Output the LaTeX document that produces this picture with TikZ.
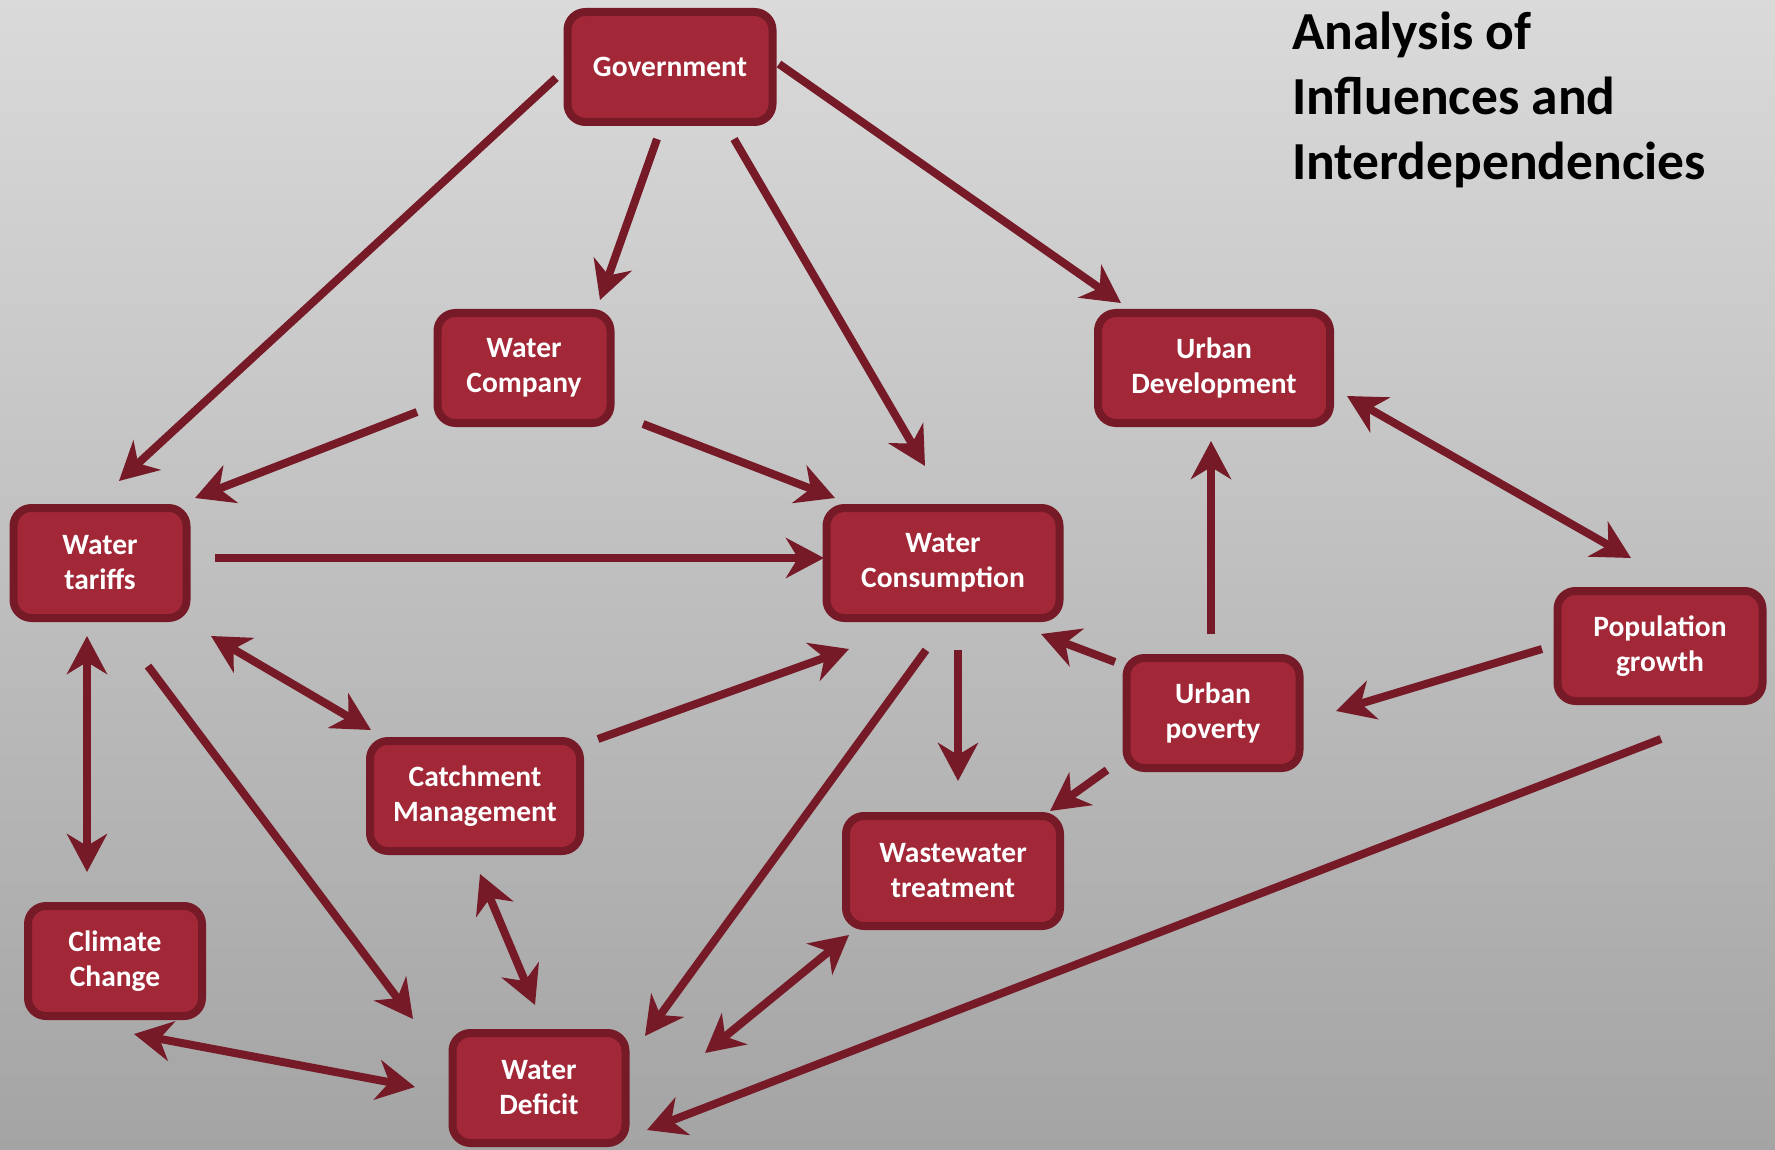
\documentclass[tikz,border=0pt]{standalone}
\usepackage{fontspec}
\setmainfont{Carlito}
\usetikzlibrary{arrows.meta}
\definecolor{boxfill}{HTML}{A22838}
\definecolor{boxline}{HTML}{751A26}
\definecolor{arrowc}{HTML}{761A27}
\tikzset{
  box/.style={draw=boxline, fill=boxfill, line width=8pt, rounded corners=18pt,
    text=white, align=center, font=\fontsize{29.5}{35}\selectfont\bfseries,
    inner sep=0pt},
  tip/.tip={Stealth[length=38pt,width=40pt,inset=12pt]},
  arr/.style={draw=arrowc, line width=8pt, -tip},
  darr/.style={draw=arrowc, line width=8pt, tip-tip},
}
\begin{document}
\begin{tikzpicture}[x=1pt,y=-1pt]
\useasboundingbox (0,0) rectangle (1775,1150);
\shade[top color={rgb,255:red,218;green,218;blue,218}, bottom color={rgb,255:red,164;green,164;blue,164}] (0,0) rectangle (1775,1150);

\node[anchor=north west, align=left, font=\fontsize{53.5}{65}\selectfont\bfseries, inner sep=0pt] (title) at (1292,12) {Analysis of\\Influences and\\Interdependencies};

\node[box, minimum width=205pt, minimum height=110pt] (gov) at (670,67) {Government};
\node[box, minimum width=173pt, minimum height=110pt] (wc) at (524,368) {Water\\Company};
\node[box, minimum width=232pt, minimum height=110pt] (ud) at (1214,368) {Urban\\Development};
\node[box, minimum width=173pt, minimum height=110pt] (wt) at (100,563) {Water\\tariffs};
\node[box, minimum width=233pt, minimum height=110pt] (cons) at (943,563) {Water\\Consumption};
\node[box, minimum width=205pt, minimum height=110pt] (pop) at (1660,646) {Population\\growth};
\node[box, minimum width=173pt, minimum height=110pt] (pov) at (1213,713) {Urban\\poverty};
\node[box, minimum width=210pt, minimum height=110pt] (cat) at (475,796) {Catchment\\Management};
\node[box, minimum width=214pt, minimum height=110pt] (ww) at (953,871) {Wastewater\\treatment};
\node[box, minimum width=174pt, minimum height=110pt] (cc) at (115,961) {Climate\\Change};
\node[box, minimum width=173pt, minimum height=110pt] (wd) at (539,1088) {Water\\Deficit};

\draw[arr] ([shift={(-114,11)}]gov.center) -- ([shift={(19,-82)}]wt.center);
\draw[arr] ([shift={(-13,72)}]gov.center) -- ([shift={(76,-68)}]wc.center);
\draw[arr] ([shift={(64,72)}]gov.center) -- ([shift={(-18,-97)}]cons.center);
\draw[arr] ([shift={(109,-3)}]gov.center) -- ([shift={(-93,-65)}]ud.center);
\draw[arr] ([shift={(-107,44)}]wc.center) -- ([shift={(95,-65)}]wt.center);
\draw[arr] ([shift={(119,56)}]wc.center) -- ([shift={(-108,-65)}]cons.center);
\draw[arr] ([shift={(115,-5)}]wt.center) -- ([shift={(-119,-5)}]cons.center);
\draw[darr] ([shift={(-13,73)}]wt.center) -- ([shift={(-28,-89)}]cc.center);
\draw[darr] ([shift={(111,73)}]wt.center) -- ([shift={(-104,-66)}]cat.center);
\draw[arr] ([shift={(48,103)}]wt.center) -- ([shift={(-126,-69)}]wd.center);
\draw[arr] ([shift={(123,-57)}]cat.center) -- ([shift={(-94,86)}]cons.center);
\draw[darr] ([shift={(5,78)}]cat.center) -- ([shift={(-4,-83)}]wd.center);
\draw[darr] ([shift={(19,73)}]cc.center) -- ([shift={(-124,-1)}]wd.center);
\draw[arr] ([shift={(-17,87)}]cons.center) -- ([shift={(106,-52)}]wd.center);
\draw[arr] ([shift={(15,87)}]cons.center) -- ([shift={(5,-90)}]ww.center);
\draw[darr] ([shift={(-104,64)}]ww.center) -- ([shift={(166,-35)}]wd.center);
\draw[arr] ([shift={(-98,-51)}]pov.center) -- ([shift={(98,71)}]cons.center);
\draw[arr] ([shift={(-106,57)}]pov.center) -- ([shift={(97,-60)}]ww.center);
\draw[arr] ([shift={(-2,-79)}]pov.center) -- ([shift={(-3,73)}]ud.center);
\draw[darr] ([shift={(133,28)}]ud.center) -- ([shift={(-29,-88)}]pop.center);
\draw[arr] ([shift={(-118,3)}]pop.center) -- ([shift={(123,-2)}]pov.center);
\draw[arr] ([shift={(1,93)}]pop.center) -- ([shift={(108,42)}]wd.center);
\end{tikzpicture}
\end{document}
